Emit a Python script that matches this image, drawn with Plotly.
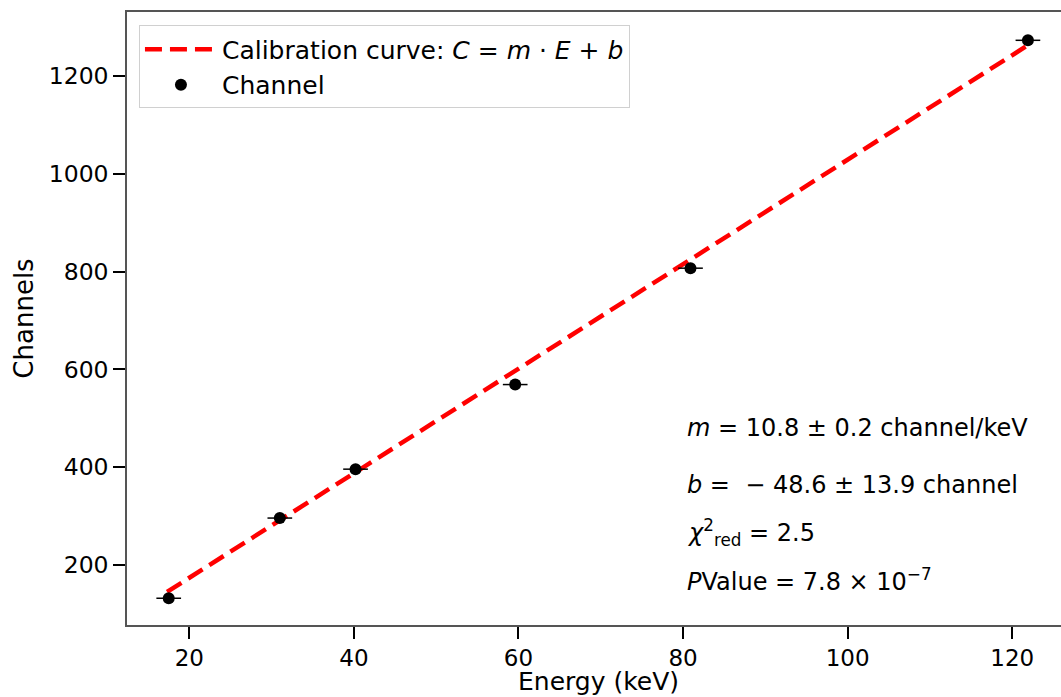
import plotly.graph_objects as go

# Data
energy_keV = [17.5, 31.0, 40.2, 59.6, 80.9, 121.9]
channels = [132, 296, 396, 569, 807, 1273]
energy_err = [1.5, 1.5, 1.5, 1.5, 1.5, 1.5]

fit_E = [17.3, 121.9]
fit_C = [145, 1263]

x_ticks = [20, 40, 60, 80, 100, 120]
y_ticks = [200, 400, 600, 800, 1000, 1200]

fit_texts = [
    "<i>m</i> = 10.8 ± 0.2 channel/keV",
    "<i>b</i> =  − 48.6 ± 13.9 channel",
    "<i>χ</i><sup>2</sup><sub>red</sub> = 2.5",
    "<i>P</i>Value = 7.8 × 10<sup>−7</sup>",
]
text_y = [0.3214, 0.2284, 0.1517, 0.0734]

FONT = "DejaVu Sans"

fig = go.Figure()
fig.add_trace(go.Scatter(
    x=fit_E, y=fit_C, mode="lines",
    line=dict(color="#ff0000", width=4.5, dash="17px,8px"),
    name="Calibration curve: <i>C</i> = <i>m</i> · <i>E</i> + <i>b</i>",
))
fig.add_trace(go.Scatter(
    x=energy_keV, y=channels, mode="markers",
    marker=dict(color="black", size=12),
    error_x=dict(type="data", array=energy_err, color="black", thickness=1.5, width=0),
    name="Channel",
))

annotations = []
for t, yy in zip(fit_texts, text_y):
    annotations.append(dict(
        text=t, x=0.597, y=yy, xref="paper", yref="paper",
        xanchor="left", yanchor="middle", showarrow=False,
        font=dict(family=FONT, size=24, color="black"),
    ))
annotations.append(dict(
    text="Energy (keV)", x=(598 - 127) / 934, y=-(697 - 625) / 613, xref="paper", yref="paper",
    xanchor="center", yanchor="bottom", showarrow=False, borderpad=0,
    font=dict(family=FONT, size=25, color="black"),
))

fig.update_layout(
    width=1061, height=697,
    margin=dict(l=127, r=0, t=12, b=72),
    paper_bgcolor="white", plot_bgcolor="white",
    font=dict(family=FONT, size=22, color="black"),
    showlegend=True,
    legend=dict(
        x=0.0128, y=0.978, xanchor="left", yanchor="top",
        bgcolor="white", bordercolor="#d0d0d0", borderwidth=1,
        font=dict(family=FONT, size=25, color="black"),
        itemwidth=72, tracegroupgap=6,
    ),
    annotations=annotations,
    xaxis=dict(
        range=[12.43, 125.92], tickvals=x_ticks, ticktext=[str(v) for v in x_ticks],
        showgrid=False, zeroline=False,
        showline=True, linecolor="#555555", linewidth=1.5, mirror=True,
        ticks="outside", ticklen=12, tickwidth=2, tickcolor="black",
        tickfont=dict(family=FONT, size=23, color="black"),
    ),
    yaxis=dict(
        range=[77.3, 1330.9], tickvals=y_ticks, ticktext=[str(v) for v in y_ticks],
        showgrid=False, zeroline=False,
        showline=True, linecolor="#555555", linewidth=1.5, mirror=False,
        ticks="outside", ticklen=12, tickwidth=2, tickcolor="black",
        tickfont=dict(family=FONT, size=23.5, color="black"),
        title=dict(text="Channels", font=dict(family=FONT, size=26, color="black"), standoff=8),
    ),
)

fig.write_html("out.html")
